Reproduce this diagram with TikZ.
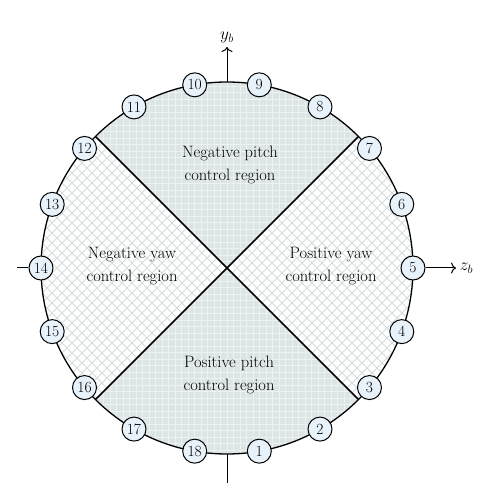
\documentclass[tikz,border=0pt]{standalone}
\usepackage{fontspec}
\usetikzlibrary{arrows.meta}
\definecolor{pitchfill}{RGB}{220,228,229}
\definecolor{pitchgrid}{RGB}{236,241,242}
\definecolor{yawhatch}{RGB}{212,219,222}
\definecolor{portfill}{RGB}{232,242,250}
\tikzset{
  port/.style={circle,draw,line width=1pt,fill=portfill,inner sep=0pt,
    minimum size=24pt,font=\fontsize{15.5}{15.5}\selectfont},
  region/.style={align=center,font=\fontsize{16.5}{23.5}\selectfont},
  hatchline/.style={yawhatch,line width=0.9pt},
  axis/.style={line width=1pt},
  tip/.style={-{To[length=5pt,width=11pt]}},
  axislabel/.style={font=\fontsize{18}{18}\selectfont},
}
\begin{document}
\begin{tikzpicture}[x=1pt,y=1pt]
\useasboundingbox (-227,-232) rectangle (267,268);
\def\R{186}
% pitch regions
\begin{scope}
  \clip (0,0) -- (45:\R) arc (45:135:\R) -- cycle
        (0,0) -- (225:\R) arc (225:315:\R) -- cycle;
  \fill[pitchfill] (-200,-200) rectangle (200,200);
  \draw[pitchgrid,line width=0.8pt,step=6.5] (-200,-200) grid (200,200);
\end{scope}
% yaw regions
\begin{scope}
  \clip (0,0) -- (-45:\R) arc (-45:45:\R) -- cycle
        (0,0) -- (135:\R) arc (135:225:\R) -- cycle;
  \foreach \k in {-40,...,40} {
    \draw[hatchline] (\k*10-200,-200) -- (\k*10+200,200);
    \draw[hatchline] (\k*10-200,200) -- (\k*10+200,-200);
  }
\end{scope}
\draw[line width=1.3pt] (0,0) circle (\R);
\foreach \a in {45,135,225,315}
  \coordinate (d\a) at (\a:\R);
\draw[line width=1.6pt] (d45) -- (d225) (d135) -- (d315);
% labels
\node[region] (npitch) at (3,103) {Negative pitch\\control region};
\node[region] (ppitch) at (2,-107) {Positive pitch\\control region};
\node[region] (nyaw) at (-95,2) {Negative yaw\\control region};
\node[region] (pyaw) at (104,2) {Positive yaw\\control region};
% axes
\coordinate (ytop) at (90:\R);
\coordinate (ybot) at (270:\R);
\draw[axis,tip] (ytop) -- (0,221) node[above,axislabel] (yb) {$y_b$};
\draw[axis] (ybot) -- (0,-215);
% ports
\foreach \i in {1,...,18}
  \node[port] (n\i) at ({(\i-5)*20}:\R) {\i};
\draw[axis,tip] (n5) -- (229,0) node[right,axislabel] (zb) {$z_b$};
\draw[axis] (n14) -- (-210,0);
\end{tikzpicture}
\end{document}
